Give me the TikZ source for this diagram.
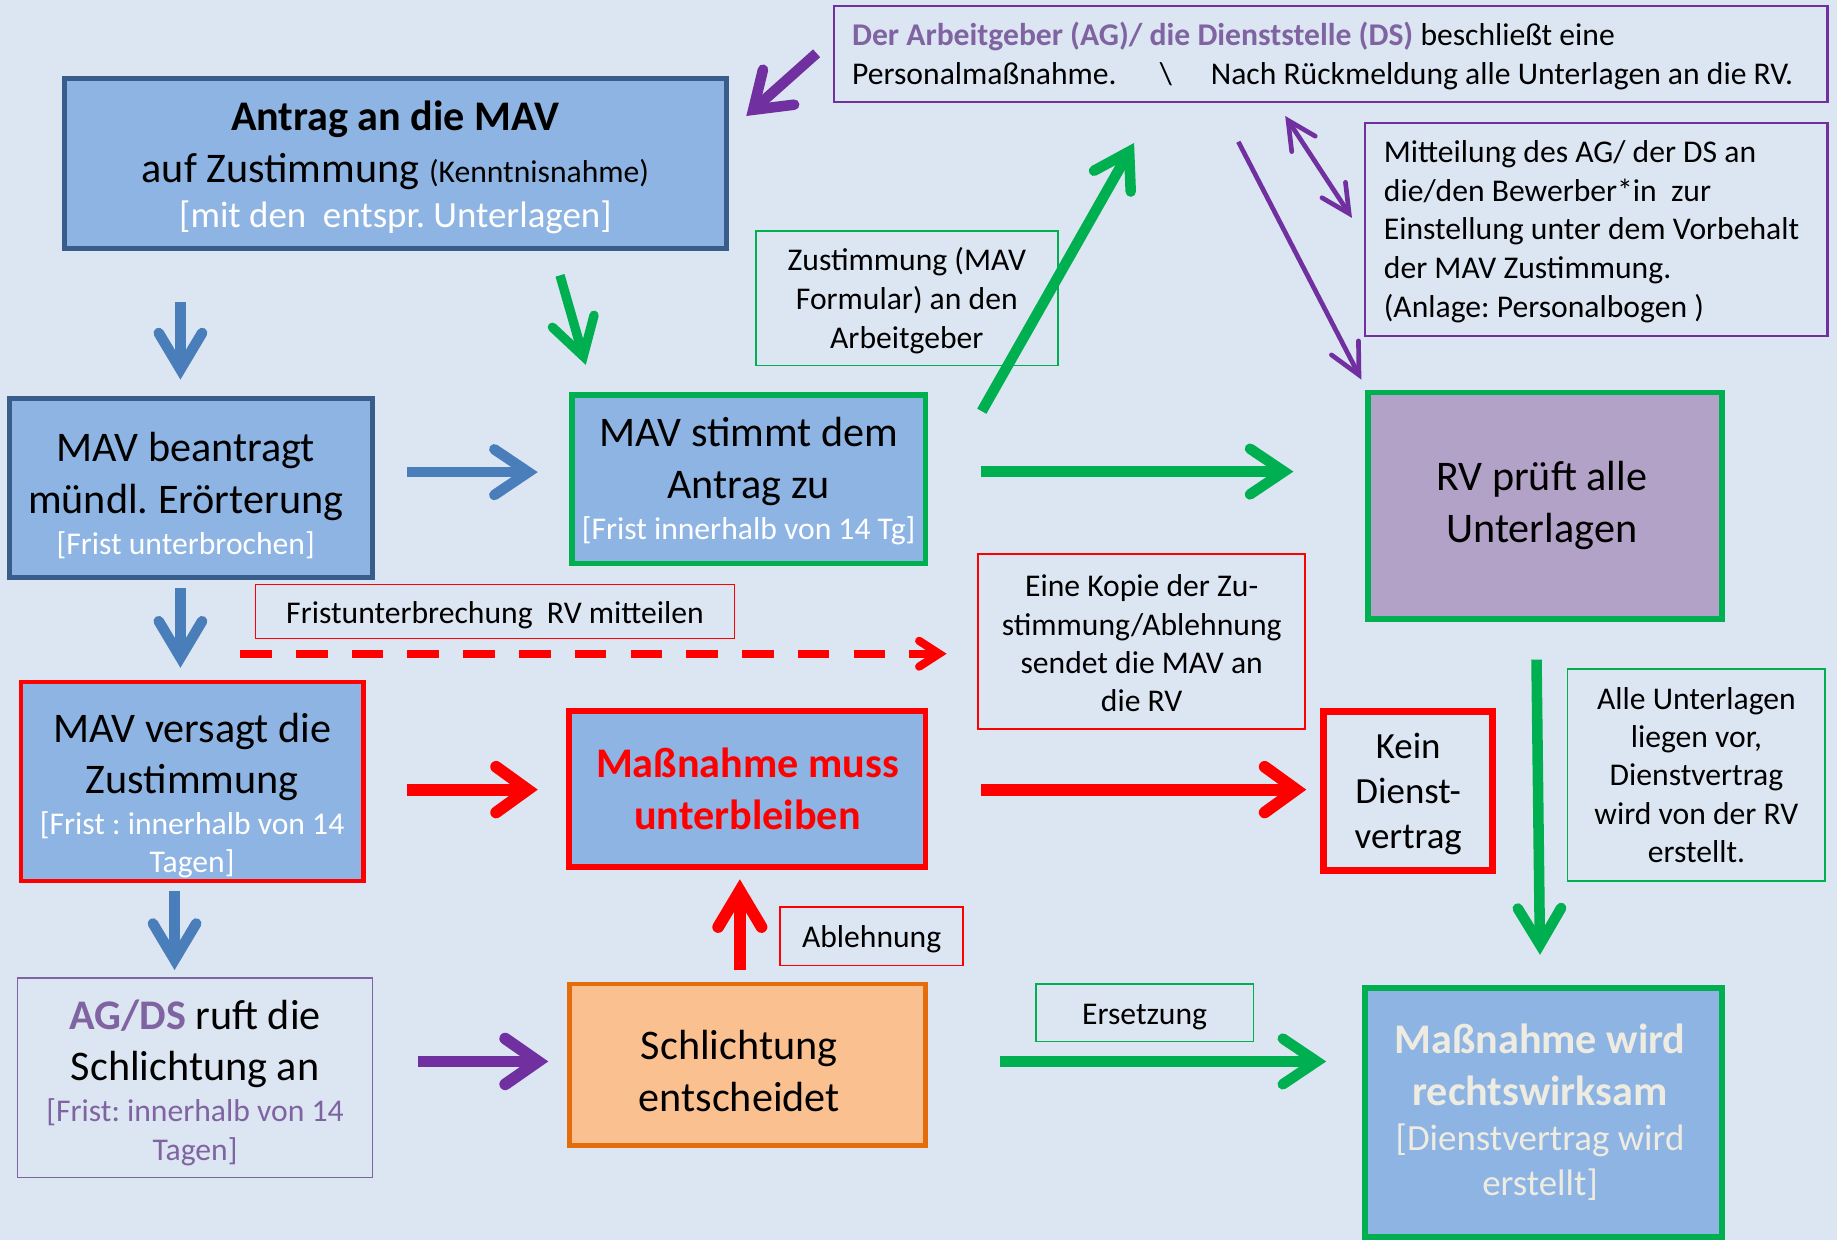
\documentclass[tikz,border=0pt]{standalone}
\usepackage{fontspec}
\setmainfont{Carlito}
\usetikzlibrary{arrows.meta}
\frenchspacing
\definecolor{bg}{HTML}{DCE6F2}
\definecolor{boxblue}{HTML}{8EB4E3}
\definecolor{darkblue}{HTML}{385D8A}
\definecolor{arrblue}{HTML}{4A7EBB}
\definecolor{grn}{HTML}{00B050}
\definecolor{rd}{HTML}{FF0000}
\definecolor{purp}{HTML}{7030A0}
\definecolor{ptext}{HTML}{8064A2}
\definecolor{lav}{HTML}{B3A2C7}
\definecolor{orfill}{HTML}{FAC090}
\definecolor{orline}{HTML}{E46C0A}
\definecolor{cream}{HTML}{EEECE1}
\newcommand{\fsA}{\fontsize{36}{44}\selectfont}
\newcommand{\fsB}{\fontsize{27}{33}\selectfont}
\newcommand{\fsC}{\fontsize{31.5}{38}\selectfont}
\newcommand{\fsK}{\fontsize{27}{32.7}\selectfont}
\newcommand{\lift}[1]{\rule{0pt}{#1pt}}
\begin{document}
\begin{tikzpicture}[x=1pt,y=-1pt,
  bx/.style={rectangle, inner sep=0pt, align=center, font=\fsA},
  thinbox/.style={bx, draw, line width=1.5pt, font=\fsB},
  headtip/.style={-{Straight Barb[length=31pt,width=37pt,line cap=round]}},
  chevtip/.style={-{Straight Barb[length=29pt,width=39pt,line cap=round]}},
]
\useasboundingbox (0,0) rectangle (1568,1058);
\fill[bg] (0,0) rectangle (1568,1058);

% ---------------- boxes ----------------
\node[bx, draw=darkblue, fill=boxblue, line width=4pt, minimum width=565pt, minimum height=145pt] (antrag) at (337.5,139.5)
  {\lift{32}\textbf{Antrag an die MAV}\\ auf Zustimmung {\fsB(Kenntnisnahme)}\\[-5.5pt] {\fsC\color{white}[mit den\ \ entspr. Unterlagen]}};

\node[thinbox, draw=purp, line width=2pt, align=left, minimum width=848pt, minimum height=82pt] (der) at (1136,46)
  {\lift{24}{\bfseries\color{ptext}Der Arbeitgeber (AG)/ die Dienststelle (DS)} beschließt eine\\
   Personalmaßnahme.\hspace{37pt}\textbackslash\hspace{33pt}Nach Rückmeldung alle Unterlagen an die RV.\kern14pt};

\node[thinbox, draw=purp, line width=2pt, align=left, minimum width=395pt, minimum height=182pt] (mitt) at (1362.5,196)
  {\lift{22}Mitteilung des AG/ der DS an\\ die/den Bewerber*in\ \ zur\\ Einstellung unter dem Vorbehalt\kern8pt\\ der MAV Zustimmung.\\ (Anlage: Personalbogen )};

\node[thinbox, draw=grn, minimum width=258pt, minimum height=115pt] (zust) at (774,254.5)
  {\lift{24}Zustimmung (MAV\\ Formular) an den\\ Arbeitgeber};

\node[bx, draw=darkblue, fill=boxblue, line width=4pt, minimum width=310pt, minimum height=153pt] (mavb) at (163,416.5)
  {\lift{38}MAV beantragt\kern9pt\\ mündl. Erörterung\kern9pt\\[-9pt] {\fsB\color{white}[Frist unterbrochen]\kern9pt}};

\node[bx, draw=grn, fill=boxblue, line width=5pt, minimum width=302pt, minimum height=144pt] (mavs) at (639,409)
  {\lift{28}MAV stimmt dem\\ Antrag zu\\[-9pt] {\fsB\color{white}[Frist innerhalb von 14 Tg]}};

\node[bx, draw=grn, fill=lav, line width=5pt, minimum width=302pt, minimum height=193pt] (rv) at (1319,431.5)
  {RV prüft alle\kern6pt\\ Unterlagen\kern6pt};

\node[thinbox, draw=rd, minimum width=409pt, minimum height=46pt] (frist) at (422.5,522)
  {\lift{25}Fristunterbrechung\ \ RV mitteilen};

\node[thinbox, draw=rd, font=\fsK, minimum width=279pt, minimum height=149pt] (kopie) at (974.5,547.5)
  {\lift{22}Eine Kopie der Zu-\\ stimmung/Ablehnung\\ sendet die MAV an\\ die RV};

\node[bx, draw=rd, fill=boxblue, line width=4pt, minimum width=292pt, minimum height=170pt] (mavv) at (164,667)
  {\lift{49}MAV versagt die\\ Zustimmung\\[-9pt] {\fsB\color{white}[Frist : innerhalb von 14}\\[-12pt] {\fsB\color{white}Tagen]}};

\node[bx, draw=rd, fill=boxblue, line width=5pt, minimum width=304pt, minimum height=133pt, text=rd, font=\fsA\bfseries] (massm) at (638,673.5)
  {Maßnahme muss\\ unterbleiben};

\node[bx, draw=rd, line width=6pt, minimum width=144pt, minimum height=136pt, font=\fontsize{31.5}{38.5}\selectfont] (kein) at (1202,675)
  {\lift{27.5}Kein\\ Dienst-\\ vertrag};

\node[thinbox, draw=grn, font=\fsK, minimum width=220pt, minimum height=181pt] (alle) at (1448,661.5)
  {Alle Unterlagen\\ liegen vor,\\ Dienstvertrag\\ wird von der RV\\ erstellt.};

\node[thinbox, draw=rd, minimum width=156pt, minimum height=50pt] (ableh) at (744,799)
  {\lift{24}Ablehnung};

\node[bx, draw=ptext, line width=1.5pt, minimum width=303pt, minimum height=170pt] (agds) at (166.5,920)
  {\lift{34}{\bfseries\color{ptext}AG/DS} ruft die\\ Schlichtung an\\[-9pt] {\fsB\color{ptext}[Frist: innerhalb von 14}\\[-11pt] {\fsB\color{ptext}Tagen]}};

\node[bx, draw=orline, fill=orfill, line width=4pt, minimum width=304pt, minimum height=138pt] (schl) at (638,909)
  {\lift{35}Schlichtung\kern14pt\\ entscheidet\kern14pt};

\node[thinbox, draw=grn, minimum width=186pt, minimum height=49pt] (ersetz) at (977,864.5)
  {\lift{24}Ersetzung};

\node[bx, draw=grn, fill=boxblue, line width=5pt, minimum width=305pt, minimum height=213pt, text=cream] (massw) at (1317.5,949.5)
  {\textbf{Maßnahme wird}\kern6pt\\ \textbf{rechtswirksam}\kern6pt\\[-5.5pt] {\fsC[Dienstvertrag wird\kern6pt}\\[-5.5pt] {\fsC erstellt]\kern6pt}};

% ---------------- arrow end points ----------------
\coordinate (a1) at (697,45.5);   \coordinate (a2) at (637,99);
\coordinate (b1) at (154,257.5);  \coordinate (b2) at (154,324);
\coordinate (c1) at (478,235);    \coordinate (c2) at (500,311.5);
\coordinate (d1) at (347,403);    \coordinate (d2) at (459,403);
\coordinate (e1) at (838,351);    \coordinate (e2) at (968,122);
\coordinate (f1) at (1057,121);   \coordinate (f2) at (1162,324);
\coordinate (g1) at (1097,99);    \coordinate (g2) at (1154,186);
\coordinate (h1) at (837.5,402.5);\coordinate (h2) at (1104,402.5);
\coordinate (i1) at (154,502);    \coordinate (i2) at (154,570);
\coordinate (j1) at (205,558);    \coordinate (j2) at (808,558);
\coordinate (k1) at (347,674);    \coordinate (k2) at (459,674);
\coordinate (l1) at (837.5,674);  \coordinate (l2) at (1115,674);
\coordinate (m1) at (1311.5,563); \coordinate (m2) at (1314.5,815);
\coordinate (n1) at (149,760.5);  \coordinate (n2) at (149,828);
\coordinate (o1) at (631.5,828);  \coordinate (o2) at (631.5,750.5);
\coordinate (p1) at (356.6,906);  \coordinate (p2) at (468,906);
\coordinate (q1) at (853.6,906);  \coordinate (q2) at (1132,906);

% ---------------- arrows ----------------
\draw[purp, line width=9pt, -{Straight Barb[length=29pt,width=40pt,line cap=round]}] (a1) -- (a2);
\draw[arrblue, line width=9pt, headtip] (b1) -- (b2);
\draw[grn, line width=8pt, headtip] (c1) -- (c2);
\draw[arrblue, line width=9pt, chevtip] (d1) -- (d2);
\draw[grn, line width=9pt, -{Straight Barb[length=29pt,width=36pt,line cap=round]}] (e1) -- (e2);
\draw[purp, line width=4pt, -{Straight Barb[length=26pt,width=26pt,line cap=round]}] (f1) -- (f2);
\draw[purp, line width=4pt, {Straight Barb[length=24pt,width=24pt,line cap=round]}-{Straight Barb[length=24pt,width=24pt,line cap=round]}] (g1) -- (g2);
\draw[grn, line width=9pt, chevtip] (h1) -- (h2);
\draw[arrblue, line width=9pt, headtip] (i1) -- (i2);
\draw[rd, line width=7pt, dash pattern=on 27pt off 20.6pt, -{Straight Barb[length=17pt,width=22pt,line cap=round]}] (j1) -- (j2);
\draw[rd, line width=10pt, -{Straight Barb[length=27pt,width=39pt,line cap=round]}] (k1) -- (k2);
\draw[rd, line width=10pt, -{Straight Barb[length=27pt,width=39pt,line cap=round]}] (l1) -- (l2);
\draw[grn, line width=9pt, headtip] (m1) -- (m2);
\draw[arrblue, line width=9pt, headtip] (n1) -- (n2);
\draw[rd, line width=10pt, headtip] (o1) -- (o2);
\draw[purp, line width=10pt, -{Straight Barb[length=28pt,width=39pt,line cap=round]}] (p1) -- (p2);
\draw[grn, line width=9pt, chevtip] (q1) -- (q2);
\end{tikzpicture}
\end{document}
